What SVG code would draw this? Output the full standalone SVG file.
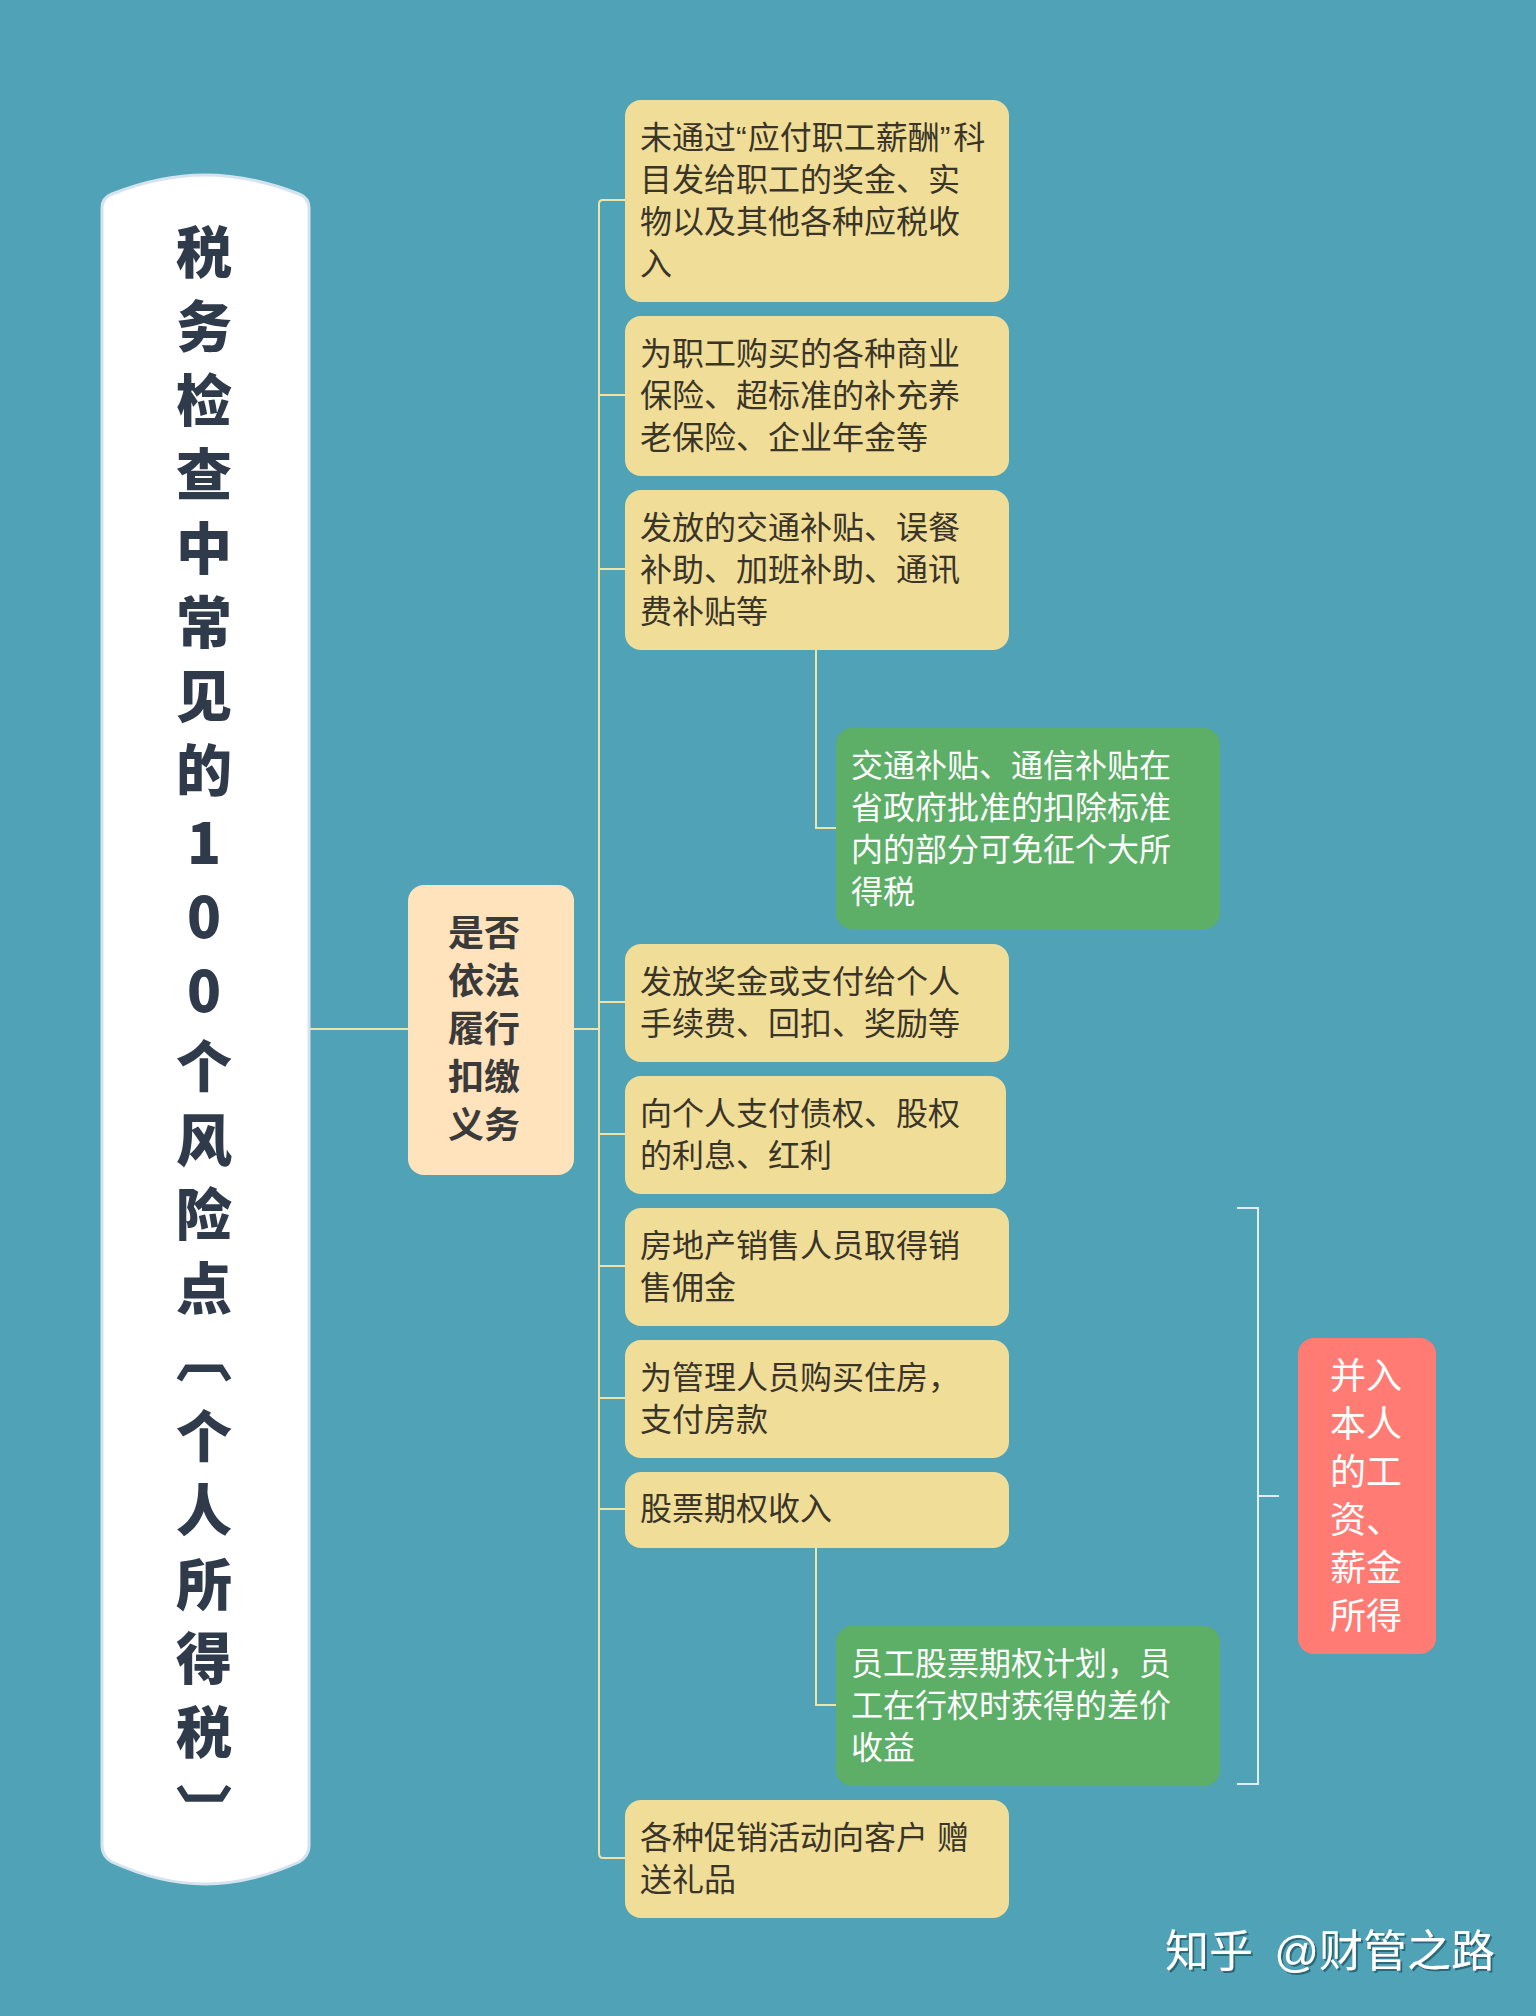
<svg xmlns="http://www.w3.org/2000/svg" width="1536" height="2016" viewBox="0 0 1536 2016">
<style>
text{font-family:"Liberation Sans","Noto Sans CJK SC",sans-serif}
.b{font-size:32px;fill:#3a3528}
.g{font-size:32px;fill:#fff}
.y{fill:#f0dd98}
.gr{fill:#5dae67}
.c{fill:none;stroke:#efe4a6;stroke-width:2}
.w{fill:none;stroke:#e4eef2;stroke-width:2}
.t{font-size:56px;font-weight:900;fill:#2f3b4a;text-anchor:middle;font-family:"Noto Sans CJK SC",sans-serif}
</style>
<defs><filter id="s" x="-5%" y="-20%" width="110%" height="140%"><feDropShadow dx="2" dy="2" stdDeviation="0.6" flood-color="#2b6b78" flood-opacity="1"/></filter></defs>
<rect width="1536" height="2016" fill="#50a3b7"/>
<g id="connectors">
<path class="c" d="M310 1029H408M574 1029H599M625 200H603Q599 200 599 204V1853Q599 1858 603 1858H625M599 395H625M599 569H625M599 1002H625M599 1134H625M599 1266H625M599 1398H625M599 1509H625"/>
<path class="c" d="M816 649V828H836M816 1548V1705H836"/>
<path class="w" d="M1237 1208H1258V1784H1237M1258 1496H1279"/>
</g>
<g id="root">
<path d="M102 208Q102 198 112 194Q160 175 205 175Q250 175 299 194Q309 198 309 208V1846Q309 1856 299 1862Q250 1884 205 1884Q160 1884 112 1862Q102 1856 102 1846Z" fill="#fff" stroke="#d5e3ee" stroke-width="3"/>
<text class="t"><tspan x="204" y="273">税</tspan><tspan x="204" y="347">务</tspan><tspan x="204" y="421">检</tspan><tspan x="204" y="495">查</tspan><tspan x="204" y="569">中</tspan><tspan x="204" y="643">常</tspan><tspan x="204" y="717">见</tspan><tspan x="204" y="791">的</tspan><tspan x="204" y="864">1</tspan><tspan x="204" y="938">0</tspan><tspan x="204" y="1012">0</tspan><tspan x="204" y="1087">个</tspan><tspan x="204" y="1161">风</tspan><tspan x="204" y="1235">险</tspan><tspan x="204" y="1309">点</tspan><tspan x="204" y="1375">︹</tspan><tspan x="204" y="1457">个</tspan><tspan x="204" y="1531">人</tspan><tspan x="204" y="1605">所</tspan><tspan x="204" y="1679">得</tspan><tspan x="204" y="1753">税</tspan><tspan x="204" y="1833">︺</tspan></text>
</g>
<g id="center">
<rect x="408" y="885" width="166" height="290" rx="16" fill="#ffe3bc"/>
<text font-size="36" font-weight="700" fill="#3a3a3a"><tspan x="448" y="946">是否</tspan><tspan x="448" y="994">依法</tspan><tspan x="448" y="1042">履行</tspan><tspan x="448" y="1090">扣缴</tspan><tspan x="448" y="1138">义务</tspan></text>
</g>
<g id="n1"><rect class="y" x="625" y="100" width="384" height="202" rx="16"/><text class="b"><tspan x="640" y="149">未通过“<tspan dx="1">应付职工薪酬</tspan>”<tspan dx="3">科</tspan></tspan><tspan x="640" y="191">目发给职工的奖金、实</tspan><tspan x="640" y="233">物以及其他各种应税收</tspan><tspan x="640" y="275">入</tspan></text></g>
<g id="n2"><rect class="y" x="625" y="316" width="384" height="160" rx="16"/><text class="b"><tspan x="640" y="365">为职工购买的各种商业</tspan><tspan x="640" y="407">保险、超标准的补充养</tspan><tspan x="640" y="449">老保险、企业年金等</tspan></text></g>
<g id="n3"><rect class="y" x="625" y="490" width="384" height="160" rx="16"/><text class="b"><tspan x="640" y="539">发放的交通补贴、误餐</tspan><tspan x="640" y="581">补助、加班补助、通讯</tspan><tspan x="640" y="623">费补贴等</tspan></text></g>
<g id="n3a"><rect class="gr" x="836" y="728" width="384" height="201" rx="16"/><text class="g"><tspan x="851" y="777">交通补贴、通信补贴在</tspan><tspan x="851" y="819">省政府批准的扣除标准</tspan><tspan x="851" y="861">内的部分可免征个大所</tspan><tspan x="851" y="903">得税</tspan></text></g>
<g id="n4"><rect class="y" x="625" y="944" width="384" height="118" rx="16"/><text class="b"><tspan x="640" y="993">发放奖金或支付给个人</tspan><tspan x="640" y="1035">手续费、回扣、奖励等</tspan></text></g>
<g id="n5"><rect class="y" x="625" y="1076" width="381" height="118" rx="16"/><text class="b"><tspan x="640" y="1125">向个人支付债权、股权</tspan><tspan x="640" y="1167">的利息、红利</tspan></text></g>
<g id="n6"><rect class="y" x="625" y="1208" width="384" height="118" rx="16"/><text class="b"><tspan x="640" y="1257">房地产销售人员取得销</tspan><tspan x="640" y="1299">售佣金</tspan></text></g>
<g id="n7"><rect class="y" x="625" y="1340" width="384" height="118" rx="16"/><text class="b"><tspan x="640" y="1389">为管理人员购买住房，</tspan><tspan x="640" y="1431">支付房款</tspan></text></g>
<g id="n8"><rect class="y" x="625" y="1472" width="384" height="76" rx="16"/><text class="b"><tspan x="640" y="1520">股票期权收入</tspan></text></g>
<g id="n8a"><rect class="gr" x="836" y="1626" width="384" height="160" rx="16"/><text class="g"><tspan x="851" y="1675">员工股票期权计划，员</tspan><tspan x="851" y="1717">工在行权时获得的差价</tspan><tspan x="851" y="1759">收益</tspan></text></g>
<g id="n9"><rect class="y" x="625" y="1800" width="384" height="118" rx="16"/><text class="b"><tspan x="640" y="1849">各种促销活动向客户 赠</tspan><tspan x="640" y="1891">送礼品</tspan></text></g>
<g id="summary"><rect x="1298" y="1338" width="138" height="316" rx="16" fill="#ff7b73"/><text font-size="36" fill="#fff"><tspan x="1330" y="1389">并入</tspan><tspan x="1330" y="1437">本人</tspan><tspan x="1330" y="1485">的工</tspan><tspan x="1330" y="1533">资、</tspan><tspan x="1330" y="1581">薪金</tspan><tspan x="1330" y="1629">所得</tspan></text></g>
<text x="1165" y="1967" font-size="44" font-weight="400" word-spacing="9" fill="#fff" filter="url(#s)">知乎 @财管之路</text>
</svg>
